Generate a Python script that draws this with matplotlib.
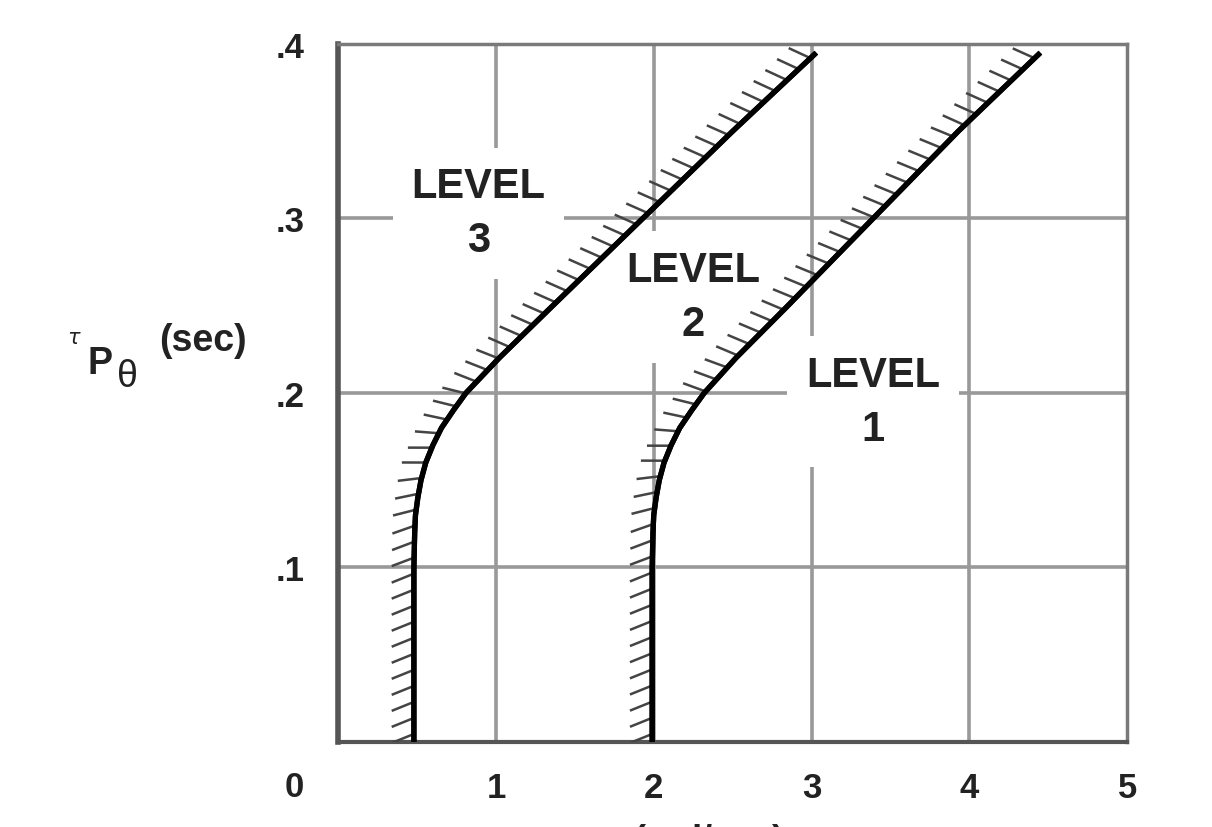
import matplotlib
matplotlib.use("Agg")
import matplotlib.pyplot as plt
from matplotlib import patheffects

# boundary curves (tau_p vs omega_BW)
tau = [0.0, 0.05, 0.10, 0.12, 0.13, 0.14, 0.15, 0.16, 0.17, 0.18, 0.19, 0.20, 0.22,
       0.25, 0.30, 0.35, 0.395]
bw_level3 = [0.48, 0.48, 0.48, 0.485, 0.49, 0.505, 0.525, 0.555, 0.60, 0.655, 0.73, 0.81, 1.02,
             1.36, 1.93, 2.50, 3.03]
bw_level2 = [1.99, 1.99, 1.99, 1.995, 2.00, 2.015, 2.035, 2.065, 2.11, 2.165, 2.24, 2.32, 2.52,
             2.85, 3.39, 3.93, 4.45]

level_names = ["LEVEL\n3", "LEVEL\n2", "LEVEL\n1"]
level_x = [0.89, 2.25, 3.39]
level_y = [0.303, 0.255, 0.195]

xticks = [1, 2, 3, 4, 5]
yticks = [0.1, 0.2, 0.3, 0.4]
ytick_labels = [".1", ".2", ".3", ".4"]

plt.rcParams["font.family"] = ["Liberation Sans", "DejaVu Sans"]
ink = "#222222"

fig = plt.figure(figsize=(12.12, 8.28), dpi=100)
ax = fig.add_axes([0.279, 0.1027, 0.651, 0.843])

ax.set_xlim(0, 5)
ax.set_ylim(0, 0.4)

for xv in [1, 2, 3, 4]:
    ax.axvline(xv, color="#999999", lw=2.6, zorder=1)
for yv in [0.1, 0.2, 0.3]:
    ax.axhline(yv, color="#999999", lw=2.6, zorder=1)

ticked = [patheffects.withTickedStroke(spacing=11.5, angle=112, length=1.5,
                                       linewidth=1.8, foreground="#444444"),
          patheffects.Normal()]
for bw in [bw_level3, bw_level2]:
    ax.plot(bw, tau, color="black", lw=3.8, zorder=3, path_effects=ticked,
            solid_capstyle="butt", solid_joinstyle="round")

for name, lx, ly in zip(level_names, level_x, level_y):
    ax.text(lx, ly, name, ha="center", va="center", fontsize=30, fontweight="bold",
            color=ink, linespacing=1.45, zorder=2,
            bbox=dict(boxstyle="square,pad=0.45", fc="white", ec="none"))

ax.set_xticks(xticks)
ax.set_xticklabels([str(v) for v in xticks])
ax.set_yticks(yticks)
ax.set_yticklabels(ytick_labels)
ax.tick_params(length=0)
ax.tick_params(axis="x", pad=21)
ax.tick_params(axis="y", pad=24)
for lab in ax.get_xticklabels() + ax.get_yticklabels():
    lab.set_fontweight("bold")
    lab.set_fontsize(25)
    lab.set_color(ink)

ax.text(-0.28, -0.0255, "0", ha="center", va="center", fontsize=25,
        fontweight="bold", color=ink, clip_on=False)

ax.spines["left"].set_linewidth(4)
ax.spines["left"].set_color("#555555")
ax.spines["bottom"].set_linewidth(3)
ax.spines["bottom"].set_color("#555555")
ax.spines["top"].set_linewidth(2.5)
ax.spines["top"].set_color("#7a7a7a")
ax.spines["right"].set_linewidth(2.5)
ax.spines["right"].set_color("#7a7a7a")

# y axis label pieces
fig.text(74 / 1212, 1 - 338 / 828, r"$\tau$", fontsize=15, ha="center", va="center", color=ink)
fig.text(100 / 1212, 1 - 364 / 828, "P", fontsize=27, fontweight="bold", ha="center", va="center",
         color=ink)
fig.text(127 / 1212, 1 - 377 / 828, "θ", fontsize=27, ha="center", va="center", color=ink)
fig.text(203 / 1212, 1 - 341 / 828, "(sec)", fontsize=27, fontweight="bold", ha="center",
         va="center", color=ink)

# x axis label, cut off at the bottom edge as in the source
fig.text(0.545, 6 / 828, r"$\omega_{BW_\theta}$ (rad/sec)", fontsize=26, fontweight="bold",
         ha="center", va="top", color=ink)

fig.savefig("out.png", dpi=100)
